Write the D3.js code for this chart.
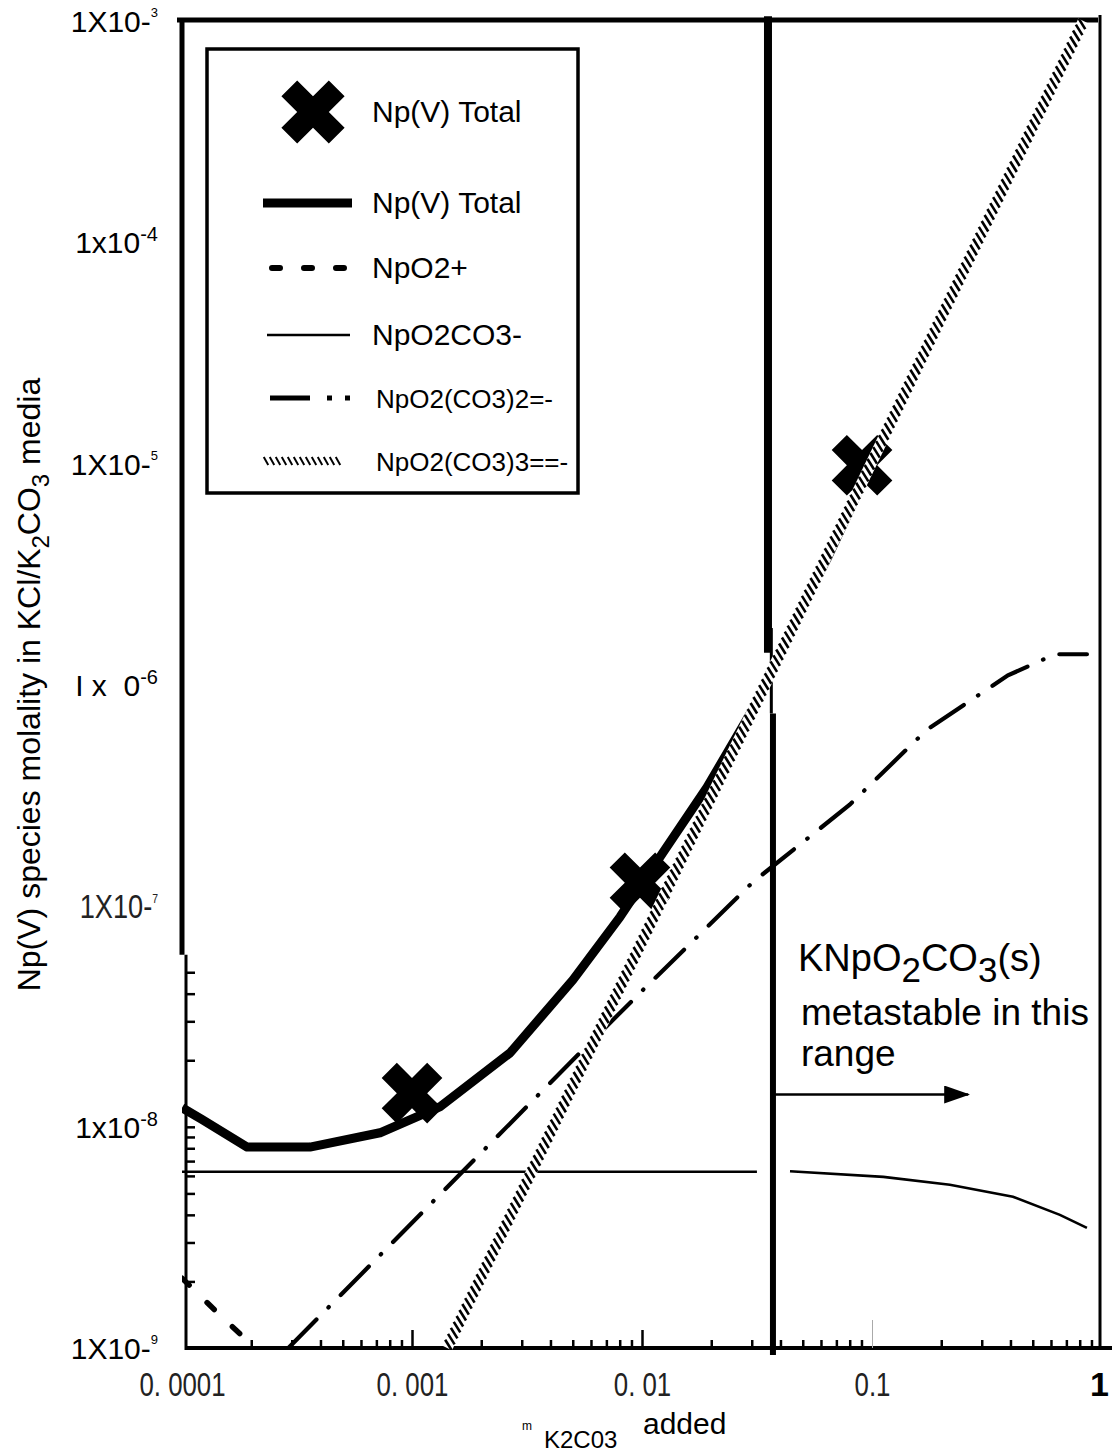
<!DOCTYPE html>
<html>
<head>
<meta charset="utf-8">
<script src="https://cdn.jsdelivr.net/npm/d3@7/dist/d3.min.js"></script>
<style>
  body { margin: 0; background: #fff; }
  svg { display: block; font-family: "Liberation Sans", Arial, sans-serif; }
</style>
</head>
<body>
<svg id="chart" width="1112" height="1454"></svg>
<script>
// values (molality of K2CO3 added vs Np(V) species molality)
const totalX = [0.0001, 0.000122, 0.000192, 0.00036, 0.000726, 0.00132, 0.00267, 0.00501, 0.00803, 0.0123, 0.0192, 0.0326, 0.036, 0.0656, 0.123];
const totalY = [1.22e-8, 1.08e-8, 8.1e-9, 8.1e-9, 9.4e-9, 1.23e-8, 2.16e-8, 4.62e-8, 8.9e-8, 1.73e-7, 3.44e-7, 8.8e-7, 1.13e-6, 3.66e-6, 1.49e-5];
const measX = [0.001, 0.0098, 0.0905];
const measY = [1.42e-8, 1.27e-7, 9.8e-6];
const npo2X = [0.0001, 0.000146, 0.000208];
const npo2Y = [2.07e-9, 1.41e-9, 1.0e-9];
const monoX = [0.0001, 0.0316, null, 0.044, 0.112, 0.218, 0.41, 0.656, 0.86];
const monoY = [6.26e-9, 6.26e-9, null, 6.3e-9, 5.94e-9, 5.47e-9, 4.83e-9, 4.0e-9, 3.49e-9];
const diX = [0.00029, 0.00537, 0.0101, 0.0304, 0.08, 0.173, 0.39, 0.625, 0.86];
const diY = [1.0e-9, 2.16e-8, 4.16e-8, 1.28e-7, 2.86e-7, 6.24e-7, 1.10e-6, 1.37e-6, 1.37e-6];
const triX = [0.00142, 0.83];
const triY = [1.0e-9, 1.0e-3];

const boundaryX = [0.0353, 0.0365, 0.0371];
const boundaryTop = [1.05e-3, 1.8e-6, 7.4e-7];
const boundaryBottom = [1.39e-6, 7.4e-7, 9.3e-10];
const arrowX = [0.0371, 0.262];
const arrowY = 1.4e-8;

const xTickVals = [1e-4, 1e-3, 1e-2, 1e-1, 1];
const xTickLabels = ["0. 0001", "0. 001", "0. 01", "0.1", "1"];
const yTickVals = [1e-3, 1e-4, 1e-5, 1e-6, 1e-7, 1e-8, 1e-9];
const yTickBase = ["1X10-", "1x10", "1X10-", "I x  0", "1X10-", "1x10", "1X10-"];
const yTickSup = ["3", "-4", "5", "-6", "7", "-8", "9"];
const legendLabels = ["Np(V) Total", "Np(V) Total", "NpO2+", "NpO2CO3-", "NpO2(CO3)2=-", "NpO2(CO3)3==-"];

const svg = d3.select("#chart");
const x = d3.scaleLog().domain([1e-4, 1]).range([182, 1102]);
const y = d3.scaleLog().domain([1e-9, 1e-3]).range([1348, 21]);
const zip = (a, b) => a.map((v, i) => [v, b[i]]);
const line = d3.line().defined(d => d[0] != null).x(d => x(d[0])).y(d => y(d[1]));

const defs = svg.append("defs");
defs.append("clipPath").attr("id", "plot")
  .append("rect").attr("x", 182).attr("y", 18).attr("width", 918).attr("height", 1332);
defs.append("clipPath").attr("id", "note")
  .append("rect").attr("x", 0).attr("y", 0).attr("width", 1089).attr("height", 1454);
defs.append("marker").attr("id", "head")
  .attr("markerUnits", "userSpaceOnUse").attr("markerWidth", 26).attr("markerHeight", 20)
  .attr("refX", 24).attr("refY", 9).attr("orient", "auto")
  .append("path").attr("d", "M0,0L26,9L0,18Z").attr("fill", "#000");

// frame
const frame = svg.append("g").attr("stroke", "#000").attr("fill", "none");
frame.append("line").attr("x1", 177).attr("x2", 1098).attr("y1", 20).attr("y2", 20).attr("stroke-width", 5);
frame.append("line").attr("x1", 1100).attr("x2", 1100).attr("y1", 15).attr("y2", 1348).attr("stroke-width", 3);
frame.append("line").attr("x1", 182).attr("x2", 182).attr("y1", 18).attr("y2", y(6e-8)).attr("stroke-width", 5);
frame.append("line").attr("x1", 186).attr("x2", 1112).attr("y1", 1348).attr("y2", 1348).attr("stroke-width", 4);

// left axis, lower part with inward minor ticks
const yMinor = y.ticks().filter(v => v > 1.01e-9 && v < 5.5e-8);
const yAx = svg.append("g").attr("transform", "translate(186,0)")
  .call(d3.axisRight(y).tickValues(yMinor).tickSize(9).tickFormat(""));
yAx.select(".domain").attr("d", `M0,${y(6e-8)}V1350`).attr("stroke-width", 3);
yAx.selectAll(".tick line").attr("stroke-width", 2.5);

// y tick labels
const yLab = svg.append("g").attr("transform", "translate(182,0)")
  .call(d3.axisLeft(y).tickValues(yTickVals).tickSize(0).tickPadding(24));
yLab.select(".domain").remove();
yLab.selectAll(".tick text").each(function (d, i) {
  const t = d3.select(this).text(null).attr("fill", "#000").attr("font-size", 30)
    .attr("font-family", null).style("white-space", "pre").attr("dy", "0.36em");
  if (i === 4) {
    // condensed face in the original: squeeze horizontally
    t.attr("font-size", 34).attr("fill", "#222").attr("x", 0)
      .attr("transform", "translate(-24,0) scale(0.8,1)");
  }
  t.append("tspan").text(yTickBase[i]);
  const big = yTickSup[i].startsWith("-");
  t.append("tspan").text(yTickSup[i])
    .attr("font-size", big ? 20 : 13).attr("dy", big ? -12 : -15);
});

// x axis ticks (inward) and labels
const xMinor = x.ticks().filter(v => xTickVals.indexOf(v) < 0);
const xAx = svg.append("g").attr("transform", "translate(0,1348)");
xAx.call(d3.axisTop(x).tickValues(xMinor).tickSize(8).tickFormat(""));
xAx.append("g").call(d3.axisTop(x).tickValues([1e-3, 1e-2]).tickSize(18).tickFormat(""));
xAx.selectAll(".tick line").attr("stroke-width", 2.5);
xAx.append("g").call(d3.axisTop(x).tickValues([1e-1]).tickSize(28).tickFormat(""))
  .selectAll(".tick line").attr("stroke", "#aaa").attr("stroke-width", 1);
xAx.selectAll(".domain").remove();

const xLab = svg.append("g").attr("transform", "translate(0,1348)")
  .call(d3.axisBottom(x).tickValues(xTickVals).tickSize(0).tickPadding(24)
    .tickFormat((d, i) => xTickLabels[i]));
xLab.select(".domain").remove();
xLab.selectAll(".tick text").attr("font-family", null)
  .attr("font-size", 34).attr("fill", "#222").style("white-space", "pre");
xLab.selectAll(".tick text").filter((d, i) => i < 4)
  .attr("y", 0).attr("transform", "translate(0,24) scale(0.76,1)");
xLab.selectAll(".tick text").filter((d, i) => i === 4)
  .attr("font-weight", "bold").attr("fill", "#000").attr("dx", -3);

// axis titles
svg.append("text").attr("transform", `translate(40,${(y(1e-3) + y(1e-9)) / 2})rotate(-90)`)
  .attr("text-anchor", "middle").attr("font-size", 32)
  .call(t => {
    t.append("tspan").text("Np(V) species molality in KCl/K");
    t.append("tspan").text("2").attr("dy", 9).attr("font-size", 24);
    t.append("tspan").text("CO").attr("dy", -9).attr("font-size", 32);
    t.append("tspan").text("3").attr("dy", 9).attr("font-size", 24);
    t.append("tspan").text(" media").attr("dy", -9).attr("font-size", 32);
  });
svg.append("text").attr("x", 522).attr("y", 1430).attr("font-size", 12).text("m");
svg.append("text").attr("x", 544).attr("y", 1448).attr("font-size", 24).text("K2C03");
svg.append("text").attr("x", 643).attr("y", 1434).attr("font-size", 30).text("added");

// curves
const plot = svg.append("g").attr("clip-path", "url(#plot)").attr("fill", "none").attr("stroke", "#000");
plot.append("path").attr("d", line(zip(monoX, monoY))).attr("stroke-width", 2.6);
plot.append("path").attr("d", line(zip(npo2X, npo2Y))).attr("stroke-width", 5.5)
  .attr("stroke-dasharray", "10 25").attr("stroke-linecap", "round");
plot.append("path").attr("d", line(zip(diX, diY))).attr("stroke-width", 4.2)
  .attr("stroke-dasharray", "40 17 0.5 17").attr("stroke-linecap", "round");
const tot = zip(totalX, totalY);
plot.append("path").attr("d", line(tot.filter(d => d[0] <= 0.036)))
  .attr("stroke-width", 9).attr("stroke-linejoin", "round");

// boundary of the KNpO2CO3(s) region
const bw = [8, 3, 6];
svg.append("g").selectAll("line").data(boundaryX).join("line")
  .attr("x1", d => x(d)).attr("x2", d => x(d))
  .attr("y1", (d, i) => y(boundaryTop[i])).attr("y2", (d, i) => y(boundaryBottom[i]))
  .attr("stroke", "#000").attr("stroke-width", (d, i) => bw[i]);

// measured points
const cross = d3.symbol().type(d3.symbolCross).size(2300);
svg.append("g").selectAll("path").data(zip(measX, measY)).join("path")
  .attr("d", cross).attr("transform", d => `translate(${x(d[0])},${y(d[1])})rotate(45)`)
  .attr("fill", "#000");

// hatched line helper
function hatch(g, pts, step, half, angle, sw) {
  const tmp = g.append("path").attr("d", d3.line()(pts)).attr("fill", "none").attr("stroke", "none");
  const node = tmp.node();
  const len = node.getTotalLength();
  const dx = Math.cos(angle) * half, dy = Math.sin(angle) * half;
  const marks = d3.range(step / 2, len, step).map(l => node.getPointAtLength(l));
  g.append("g").selectAll("line").data(marks).join("line")
    .attr("x1", p => p.x - dx).attr("y1", p => p.y - dy)
    .attr("x2", p => p.x + dx).attr("y2", p => p.y + dy)
    .attr("stroke", "#000").attr("stroke-width", sw);
  tmp.remove();
}
const triPts = zip(triX, triY).map(d => [x(d[0]), y(d[1])]);
const hg = svg.append("g").attr("clip-path", "url(#plot)");
hg.append("path").attr("d", d3.line()(triPts)).attr("stroke", "#fff").attr("stroke-width", 11).attr("fill", "none");
hatch(hg, triPts, 6.6, 6.2, 58 * Math.PI / 180, 2.6);
plot.append("path").attr("d", line(tot.filter(d => d[0] >= 0.036))).attr("stroke-width", 3);

// annotation
const note = svg.append("g").attr("clip-path", "url(#note)").attr("font-size", 37);
const nx = x(boundaryX[2]) + 28;
note.append("text").attr("x", nx - 3).attr("y", y(arrowY) - 124).attr("font-size", 38)
  .call(t => {
    t.append("tspan").text("KNpO");
    t.append("tspan").text("2").attr("dy", 11).attr("font-size", 35);
    t.append("tspan").text("CO").attr("dy", -11).attr("font-size", 38);
    t.append("tspan").text("3").attr("dy", 11).attr("font-size", 35);
    t.append("tspan").text("(s)").attr("dy", -11).attr("font-size", 38);
  });
note.append("text").attr("x", nx).attr("y", y(arrowY) - 70).text("metastable in this");
note.append("text").attr("x", nx).attr("y", y(arrowY) - 29).text("range");
svg.append("line").attr("x1", x(arrowX[0])).attr("x2", x(arrowX[1]))
  .attr("y1", y(arrowY)).attr("y2", y(arrowY))
  .attr("stroke", "#000").attr("stroke-width", 2.5).attr("marker-end", "url(#head)");

// legend
const lg = svg.append("g");
lg.append("rect").attr("x", 207).attr("y", 49).attr("width", 371).attr("height", 444)
  .attr("fill", "#fff").attr("stroke", "#000").attr("stroke-width", 3.5);
const rowY = [112, 203, 268, 335, 398, 461];
lg.append("path").attr("d", d3.symbol().type(d3.symbolCross).size(2500))
  .attr("transform", `translate(313,${rowY[0]})rotate(45)`).attr("fill", "#000");
lg.append("line").attr("x1", 263).attr("x2", 352).attr("y1", rowY[1]).attr("y2", rowY[1])
  .attr("stroke", "#000").attr("stroke-width", 9);
lg.append("line").attr("x1", 272).attr("x2", 345).attr("y1", rowY[2]).attr("y2", rowY[2])
  .attr("stroke", "#000").attr("stroke-width", 6).attr("stroke-dasharray", "8 24").attr("stroke-linecap", "round");
lg.append("line").attr("x1", 267).attr("x2", 350).attr("y1", rowY[3]).attr("y2", rowY[3])
  .attr("stroke", "#000").attr("stroke-width", 2.6);
lg.append("line").attr("x1", 270).attr("x2", 352).attr("y1", rowY[4]).attr("y2", rowY[4])
  .attr("stroke", "#000").attr("stroke-width", 5).attr("stroke-dasharray", "40 17 5 13 5 100");
hatch(lg, [[263, rowY[5]], [343, rowY[5]]], 6, 4.5, 60 * Math.PI / 180, 2);
lg.selectAll("text").data(legendLabels).join("text")
  .attr("x", (d, i) => i < 4 ? 372 : 376).attr("y", (d, i) => rowY[i] + 10)
  .attr("font-size", (d, i) => i < 4 ? 30 : 26).text(d => d);
</script>
</body>
</html>
